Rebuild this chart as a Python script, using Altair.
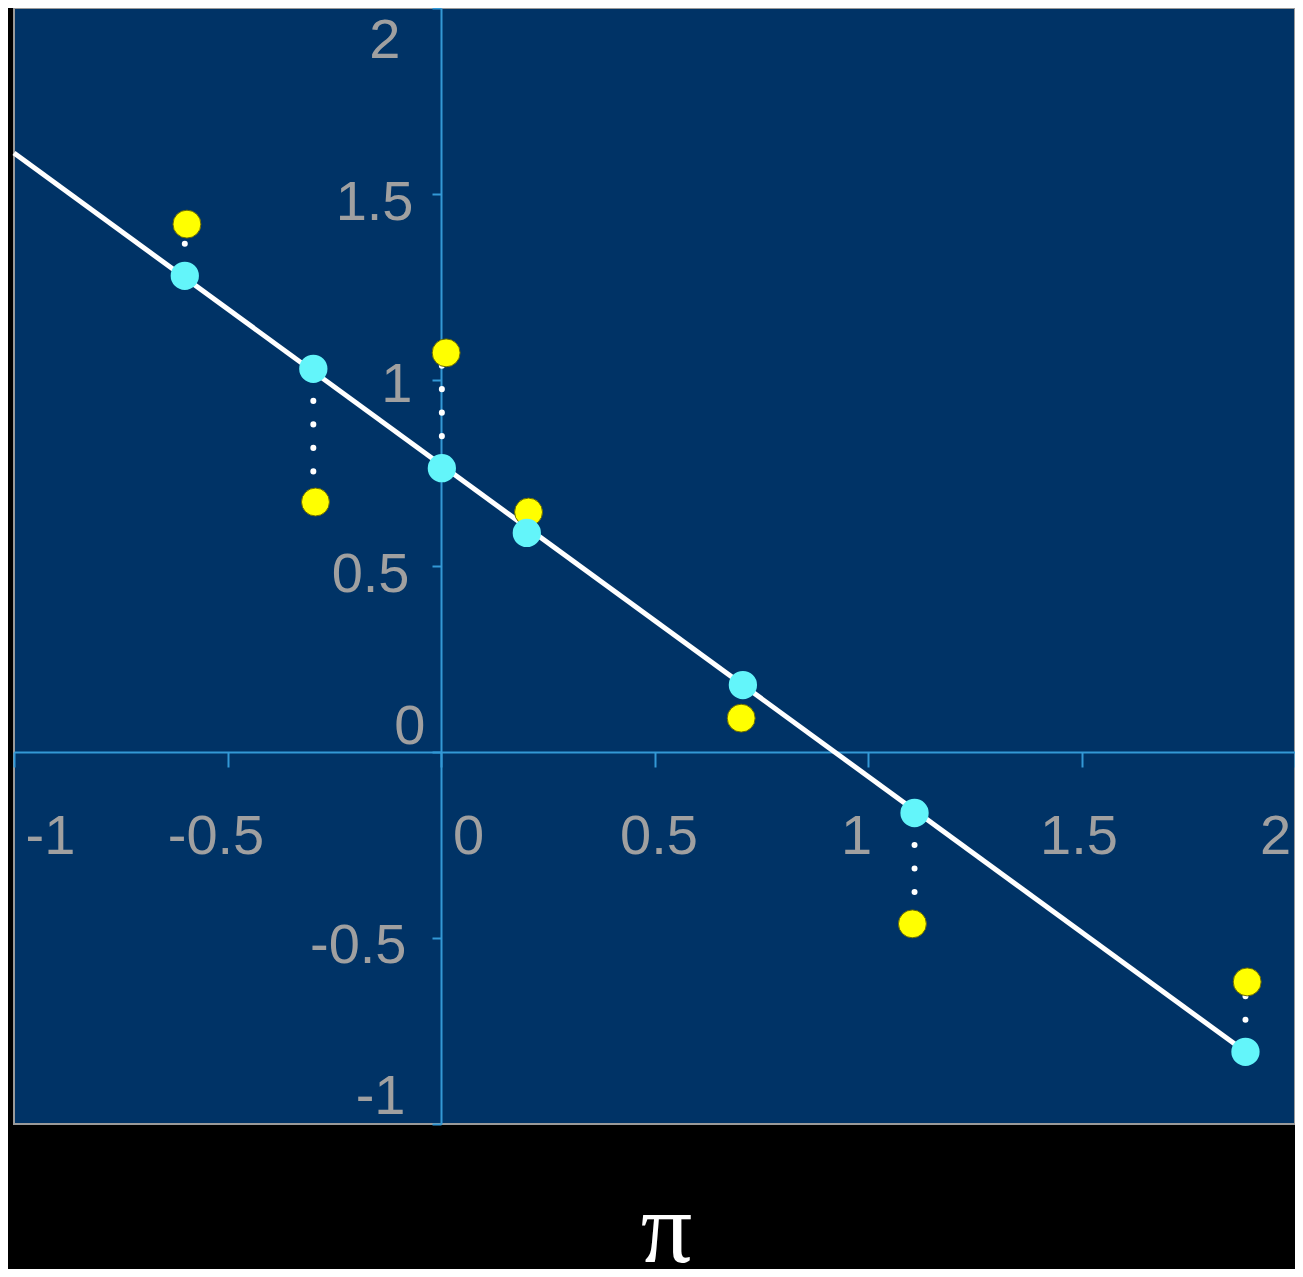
import altair as alt
import pandas as pd

# ---- data ----
x_fit = [-0.600, -0.299, 0.002, 0.201, 0.707, 1.109, 1.884]
y_fit = [1.280, 1.030, 0.763, 0.589, 0.180, -0.164, -0.806]
x_obs = [-0.595, -0.294, 0.012, 0.205, 0.703, 1.104, 1.888]
y_obs = [1.419, 0.672, 1.073, 0.645, 0.091, -0.462, -0.618]
line_x = [-1.0, 1.884]
line_y = [1.610, -0.806]
tick_values = [-1, -0.5, 0, 0.5, 1, 1.5, 2]

W, H = 1281, 1116
BG_PLOT = "#003366"
AXIS_BLUE = "#3399D6"
LABEL_GRAY = "#A0A0A0"

pts = pd.DataFrame({"x_fit": x_fit, "y_fit": y_fit, "x_obs": x_obs, "y_obs": y_obs})
line_df = pd.DataFrame({"x": line_x, "y": line_y})


def cond(pairs, default=0):
    return {
        "condition": [{"test": f"datum.value == {v}", "value": o} for v, o in pairs],
        "value": default,
    }


x_label_offsets = [(-1, 36), (-0.5, -12), (0, 27), (0.5, 4), (1, -12), (1.5, -3), (2, -20)]
y_label_offsets = [(2, 32), (1.5, 8), (1, 4), (0.5, 8), (0, -26), (-0.5, 7), (-1, -28)]
y_label_pads = [(2, 32), (1.5, 19), (1, 20), (0.5, 23), (0, 7), (-0.5, 26), (-1, 27)]

label_expr = "datum.value < 0 ? '-' + format(-datum.value, '~g') : format(datum.value, '~g')"

common_axis = dict(
    values=tick_values,
    title=None,
    grid=False,
    domainColor=AXIS_BLUE,
    domainWidth=2,
    tickColor=AXIS_BLUE,
    tickWidth=2,
    labelColor=LABEL_GRAY,
    labelFont="Liberation Sans",
    labelFontSize=56,
    labelOverlap=False,
    labelFlush=False,
    labelBound=False,
    labelExpr=label_expr,
)

x_axis = alt.Axis(
    orient="bottom",
    offset=-H / 3,
    tickSize=15,
    labelPadding=42,
    labelOffset=cond(x_label_offsets),
    **common_axis,
)
y_axis = alt.Axis(
    orient="left",
    offset=-W / 3,
    tickSize=9,
    labelPadding=cond(y_label_pads, 23),
    labelOffset=cond(y_label_offsets),
    **common_axis,
)

xs = alt.Scale(domain=[-1, 2], nice=False, zero=False)
ys = alt.Scale(domain=[-1, 2], nice=False, zero=False)


def X(f):
    return alt.X(f"{f}:Q", scale=xs, axis=x_axis)


def Y(f):
    return alt.Y(f"{f}:Q", scale=ys, axis=y_axis)


base = alt.Chart(pts)

dots = base.mark_rule(
    color="white", strokeWidth=6, strokeCap="round",
    strokeDash=[0.1, 23.4], strokeDashOffset=15,
).encode(x=X("x_fit"), y=Y("y_fit"), y2="y_obs:Q")

fit_line = alt.Chart(line_df).mark_line(color="white", strokeWidth=5).encode(
    x=X("x"), y=Y("y")
)

yellow = base.mark_circle(
    size=780, opacity=1, color="#FFFF00", stroke="#6b6b00", strokeWidth=1
).encode(x=X("x_obs"), y=Y("y_obs"))

cyan = base.mark_circle(size=800, opacity=1, color="#63F5FA").encode(
    x=X("x_fit"), y=Y("y_fit")
)

chart = (
    alt.layer(dots, fit_line, yellow, cyan)
    .properties(
        width=W,
        height=H,
        background="black",
        autosize=alt.AutoSizeParams(type="none"),
        padding={"left": 6, "top": 0, "right": 0, "bottom": 145},
        title=alt.TitleParams(
            text="π",
            orient="bottom",
            anchor="middle",
            font="Liberation Serif",
            fontSize=102,
            fontWeight="normal",
            color="white",
            offset=56,
            dx=12,
        ),
    )
    .configure_view(fill=BG_PLOT, stroke="#9A9A9A", strokeWidth=2)
)

chart.save("out.html", embed_options={"renderer": "svg", "actions": False})
